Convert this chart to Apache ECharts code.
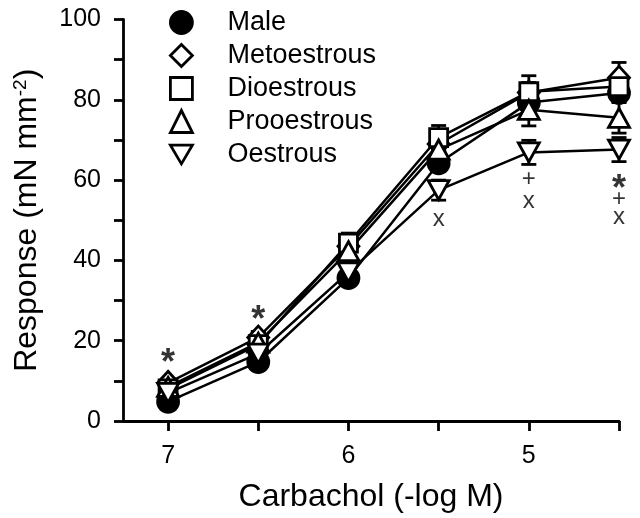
<!DOCTYPE html>
<html lang="en">
<head>
    <meta charset="UTF-8">
    <title>Carbachol response</title>
    <script src="https://cdn.jsdelivr.net/npm/echarts@6.0.0/dist/echarts.min.js"></script>
    <style>html, body { margin: 0; padding: 0; background: #fff; }</style>
</head>
<body>
    <div id="main" style="width: 640px;height:518px;"></div>
    <script type="text/javascript">
        // carbachol concentration (-log M) and tick labels
        const conc = [7, 6.5, 6, 5.5, 5, 4.5];
        const xLabels = [7, 6, 5];

        // mean responses (mN mm-2)
        const male = [4.8, 14.7, 35.6, 64.2, 79.3, 81.7];
        const meto = [9.5, 20.8, 43.5, 69.0, 81.8, 85.5];
        const dio = [8.0, 19.0, 44.3, 70.6, 82.0, 83.3];
        const pro = [8.5, 19.5, 42.3, 67.6, 77.5, 75.5];
        const oes = [7.0, 16.8, 37.0, 57.5, 66.9, 67.6];

        // s.e.m.
        const maleErr = [1.0, 1.2, 1.5, 2.0, 2.0, 2.0];
        const metoErr = [1.0, 1.5, 2.0, 2.0, 2.5, 3.8];
        const dioErr = [1.0, 1.5, 2.5, 3.0, 4.0, 2.5];
        const proErr = [1.0, 1.5, 2.0, 2.5, 4.0, 3.8];
        const oesErr = [1.0, 1.5, 2.0, 2.5, 3.0, 3.0];

        // significance marks
        const markX = [7, 6.5, 5.5, 5, 5, 4.5, 4.5, 4.5];
        const markY = [16.3, 27.2, 50.2, 60.2, 54.8, 59.8, 55.2, 50.7];
        const markText = ['*', '*', 'x', '+', 'x', '*', '+', 'x'];

        const groups = ['Male', 'Metoestrous', 'Dioestrous', 'Prooestrous', 'Oestrous'];
        const values = [male, meto, dio, pro, oes];
        const errors = [maleErr, metoErr, dioErr, proErr, oesErr];
        const symbols = ['circle', 'diamond', 'rect', 'triangle', 'path://M0,0L20,0L10,17Z'];
        const sizes = [21, [21, 23], 18, [21, 19], [21, 19]];
        const fills = ['#000', '#fff', '#fff', '#fff', '#fff'];

        const font = 'Liberation Sans, Arial, sans-serif';
        const series = [];

        groups.forEach((g, i) => {
            series.push({
                name: g, type: 'scatter', z: 5,
                symbol: symbols[i], symbolSize: sizes[i],
                itemStyle: { color: fills[i], borderColor: '#000', borderWidth: 2.8, opacity: 1 },
                emphasis: { disabled: true },
                data: conc.map((c, j) => [c, values[i][j]])
            });
        });
        groups.forEach((g, i) => {
            series.push({
                type: 'line', z: 3, symbol: 'none',
                lineStyle: { color: '#000', width: 2.5 },
                emphasis: { disabled: true },
                data: conc.map((c, j) => [c, values[i][j]])
            });
            series.push({
                type: 'custom', z: 2, silent: true,
                encode: { x: 0, y: 1 },
                data: conc.map((c, j) => [c, values[i][j], errors[i][j]]),
                renderItem: function (params, api) {
                    const x = api.value(0), y = api.value(1), e = api.value(2);
                    const top = api.coord([x, y + e]);
                    const bot = api.coord([x, y - e]);
                    const w = 7.5;
                    const st = { stroke: '#000', lineWidth: 2.8 };
                    return {
                        type: 'group', children: [
                            { type: 'line', shape: { x1: top[0], y1: top[1], x2: bot[0], y2: bot[1] }, style: st },
                            { type: 'line', shape: { x1: top[0] - w, y1: top[1], x2: top[0] + w, y2: top[1] }, style: st },
                            { type: 'line', shape: { x1: bot[0] - w, y1: bot[1], x2: bot[0] + w, y2: bot[1] }, style: st }
                        ]
                    };
                }
            });
        });
        series.push({
            type: 'scatter', z: 6, silent: true, symbolSize: 1,
            itemStyle: { color: 'rgba(0,0,0,0)' },
            data: markX.map((x, k) => ({
                value: [x, markY[k]],
                label: {
                    show: true, position: 'inside', formatter: markText[k],
                    color: '#000', fontFamily: font,
                    fontSize: markText[k] === '*' ? 36 : 24,
                    fontWeight: markText[k] === '*' ? 'bold' : 'normal',
                    offset: markText[k] === '*' ? [0, 9] : [0, 0]
                }
            }))
        });

        const option = {
            animation: false,
            backgroundColor: '#fff',
            grid: { left: 123, right: 21, top: 19.5, bottom: 95.5 },
            legend: {
                orient: 'vertical', left: 164, top: 4,
                itemWidth: 22, itemHeight: 22, itemGap: 6,
                selectedMode: false,
                data: groups,
                itemStyle: { borderWidth: 2.8 },
                textStyle: { fontSize: 27, color: '#000', fontFamily: font, padding: [0, 0, 0, 30] }
            },
            xAxis: {
                type: 'value', inverse: true, min: 4.5, max: 7.25, interval: 0.5,
                axisLine: { onZero: false, lineStyle: { color: '#000', width: 2.8 } },
                axisTick: { length: 10, lineStyle: { color: '#000', width: 2.8 }, customValues: conc },
                axisLabel: { customValues: xLabels, margin: 23, fontSize: 25, color: '#000', fontFamily: font },
                splitLine: { show: false },
                name: 'Carbachol (-log M)', nameLocation: 'middle', nameGap: 60,
                nameTextStyle: { fontSize: 32, color: '#000', fontFamily: font }
            },
            yAxis: {
                type: 'value', min: 0, max: 100, interval: 20,
                axisLine: { show: true, lineStyle: { color: '#000', width: 2.8 } },
                axisTick: { show: true, length: 9, lineStyle: { color: '#000', width: 2.8 } },
                minorTick: { show: true, splitNumber: 2, length: 9, lineStyle: { color: '#000', width: 2.8 } },
                axisLabel: { margin: 22, fontSize: 25, color: '#000', fontFamily: font },
                splitLine: { show: false },
                name: 'Response (mN mm{sup|-2})', nameLocation: 'middle', nameGap: 80,
                nameTextStyle: {
                    fontSize: 32, color: '#000', fontFamily: font,
                    rich: { sup: { fontSize: 19, verticalAlign: 'top', color: '#000', fontFamily: font } }
                }
            },
            series: series
        };

        let myChart = echarts.init(document.getElementById('main'));
        myChart.setOption(option);
    </script>
</body>
</html>
